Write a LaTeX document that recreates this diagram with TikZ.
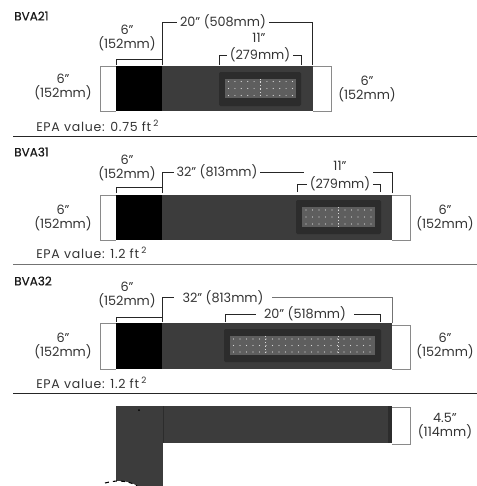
\documentclass[tikz,border=0pt]{standalone}
\usepackage{fontspec}
\setmainfont{Poppins}
\newfontfamily\headfont[FakeBold=0.5]{Poppins}
\usepackage{circuitikz}

\definecolor{inktext}{HTML}{333333}
\definecolor{armbody}{HTML}{3C3C3C}
\definecolor{armpanel}{HTML}{2C2C2C}
\definecolor{armgrid}{HTML}{5E5E5E}
\definecolor{boxline}{HTML}{8A8A8A}

\tikzset{
  dimtext/.style={inner sep=2pt,align=center,text=inktext,font=\fontsize{9.6}{11}\selectfont},
  headtext/.style={inner sep=0.75pt,anchor=west,text=black!90,font=\fontsize{9}{10}\headfont},
  epatext/.style={inner sep=0.75pt,anchor=west,text=inktext,font=\fontsize{9.4}{10}\selectfont\addfontfeature{LetterSpace=6}},
  dimline/.style={draw=black!85,line width=0.6pt},
  sizebox/.style={draw=boxline,line width=0.7pt},
  rulerline/.style={draw=black!85,line width=0.8pt},
  leddot/.style={fill=white!85!black},
  ledseam/.style={draw=white!85!black,dotted,line width=0.4pt},
}

\begin{document}
\begin{tikzpicture}[x=0.75pt,y=0.75pt,yscale=-1,xscale=1]
\path[use as bounding box] (0,0) rectangle (477,486);

%Shape: Ruler lines
\draw[rulerline] (13,136.5) -- (477,136.5);
\draw[rulerline,draw=black!55] (13,264.5) -- (477,264.5);
\draw[rulerline] (13,393.8) -- (477,393.8);

%Shape: BVA21 arm
\fill[armbody] (162,66) rectangle (313,111);
\fill[black] (116,66) rectangle (162,111);
\fill[armpanel,rounded corners=1pt] (219,72) rectangle (301,106);
\fill[armgrid] (225,79) rectangle (296,98);
\foreach \i in {0,...,10} \foreach \j in {0,1,2}
  \fill[leddot] (228.5+\i*6.4,81.5+\j*7) circle (0.6);
\draw[ledseam] (260,79) -- (260,98);
\draw[sizebox] (116,66) -- (100,66) -- (100,111) -- (116,111);
\draw[sizebox] (313,66) -- (331,66) -- (331,111) -- (313,111);

%Shape: BVA31 arm
\fill[armbody] (162,195) rectangle (392,240);
\fill[black] (116,195) rectangle (162,240);
\fill[armpanel,rounded corners=1pt] (296,200) rectangle (381,234);
\fill[armgrid] (302,207) rectangle (375,227);
\foreach \i in {0,...,10} \foreach \j in {0,1,2}
  \fill[leddot] (306+\i*6.5,210+\j*7) circle (0.6);
\draw[ledseam] (338,207) -- (338,227);
\draw[sizebox] (116,195) -- (100,195) -- (100,240) -- (116,240);
\draw[sizebox] (392,195) -- (410,195) -- (410,240) -- (392,240);

%Shape: BVA32 arm
\fill[armbody] (162,323) rectangle (392,369);
\fill[black] (116,323) rectangle (162,369);
\fill[armpanel,rounded corners=1pt] (224,329) rectangle (381,362);
\fill[armgrid] (230,336) rectangle (375,355);
\foreach \i in {0,...,21} \foreach \j in {0,1,2}
  \fill[leddot] (233.5+\i*6.5,339+\j*6.5) circle (0.6);
\draw[ledseam] (265,336) -- (265,355);
\draw[ledseam] (338,336) -- (338,355);
\draw[sizebox] (116,323) -- (100,323) -- (100,369) -- (116,369);
\draw[sizebox] (392,325) -- (410,325) -- (410,369) -- (392,369);

%Shape: Side view
\fill[armbody] (116,406) rectangle (163,486);
\fill[armbody] (163,406) rectangle (392,443);
\fill[armpanel] (388,406) rectangle (392,443);
\draw[armpanel,line width=0.5pt] (163,406) -- (163,443);
\fill[black] (139,410) circle (1);
\draw[sizebox] (392,407) -- (410,407) -- (410,444) -- (392,444);
\fill[white] (105,486) -- (105,483) .. controls (111,481.5) and (116,480.8) .. (120,481) .. controls (127,481.5) and (133,483) .. (137,486) -- cycle;
\draw[black,dashed,line width=0.8pt] (105,483) .. controls (111,481.5) and (116,480.8) .. (120,481) .. controls (127,481.5) and (133,483) .. (137,486);

% Text Node
\node[headtext] (headA) at (13,16) {BVA21};
\node[headtext] (headB) at (13,152) {BVA31};
\node[headtext] (headC) at (13,281) {BVA32};
\node[epatext] (epaA) at (35,126) {EPA value: 0.75 ft\,\textsuperscript{2}};
\node[epatext] (epaB) at (35,253) {EPA value: 1.2 ft\,\textsuperscript{2}};
\node[epatext] (epaC) at (35,383) {EPA value: 1.2 ft\,\textsuperscript{2}};

%BVA21 sizes
\node[dimtext] (wideA) at (127,38) {6”\\(152mm)};
\node[dimtext] (leftA) at (63,87) {6”\\(152mm)};
\node[dimtext] (rightA) at (367,89) {6”\\(152mm)};
\node[dimtext] (longA) at (223,22) {20” (508mm)};
\node[dimtext] (ledtopA) at (259,38) {11”};
\node[dimtext] (ledA) at (260,55) {(279mm)};
\coordinate (wideAl) at (116,65);
\coordinate (wideAr) at (162,65);
\coordinate (wideAtl) at (116,59.5);
\coordinate (wideAtr) at (162,59.5);
\coordinate (longAr) at (312,65);
\coordinate (ledAl) at (219,65);
\coordinate (ledAr) at (301,65);
\draw[dimline] (wideAl) -- (wideAtl) -- (wideAtr) -- (wideAr);
\draw[dimline] (wideAr) |- (longA);
\draw[dimline] (longAr) |- (longA);
\draw[dimline] (ledAl) |- (ledA);
\draw[dimline] (ledAr) |- (ledA);

%BVA31 sizes
\node[dimtext] (wideB) at (127,168) {6”\\(152mm)};
\node[dimtext] (leftB) at (63,218) {6”\\(152mm)};
\node[dimtext] (rightB) at (445,218) {6”\\(152mm)};
\node[dimtext] (longB) at (217,172) {32” (813mm)};
\node[dimtext] (ledtopB) at (340,166) {11”};
\node[dimtext] (ledB) at (340,184) {(279mm)};
\coordinate (wideBl) at (116,193);
\coordinate (wideBr) at (162,193);
\coordinate (wideBtl) at (116,187);
\coordinate (wideBtr) at (162,187);
\coordinate (longBr) at (392,193);
\coordinate (longBa) at (304,172);
\coordinate (longBb) at (373,172);
\coordinate (ledBl) at (297,192);
\coordinate (ledBr) at (380,192);
\draw[dimline] (wideBl) -- (wideBtl) -- (wideBtr) -- (wideBr);
\draw[dimline] (wideBr) |- (longB);
\draw[dimline] (longB.east) -- (longBa);
\draw[dimline] (longBr) |- (longBb);
\draw[dimline] (ledBl) |- (ledB);
\draw[dimline] (ledBr) |- (ledB);

%BVA32 sizes
\node[dimtext] (wideC) at (127,295) {6”\\(152mm)};
\node[dimtext] (leftC) at (63,346) {6”\\(152mm)};
\node[dimtext] (rightC) at (445,346) {6”\\(152mm)};
\node[dimtext,inner xsep=6pt] (longC) at (223,297.5) {32” (813mm)};
\node[dimtext,inner xsep=6pt] (ledC) at (305,314) {20” (518mm)};
\coordinate (wideCl) at (116,322);
\coordinate (wideCr) at (162,322);
\coordinate (wideCtl) at (116,317);
\coordinate (wideCtr) at (162,317);
\coordinate (longCr) at (392,323);
\coordinate (ledCl) at (225,322);
\coordinate (ledCr) at (380,322);
\draw[dimline] (wideCl) -- (wideCtl) -- (wideCtr) -- (wideCr);
\draw[dimline] (wideCr) |- (longC);
\draw[dimline,draw=black!55] (longCr) |- (longC);
\draw[dimline] (ledCl) |- (ledC);
\draw[dimline] (ledCr) |- (ledC);

%Side view size
\node[dimtext] (sideD) at (445,426) {4.5”\\(114mm)};

\end{tikzpicture}
\end{document}
